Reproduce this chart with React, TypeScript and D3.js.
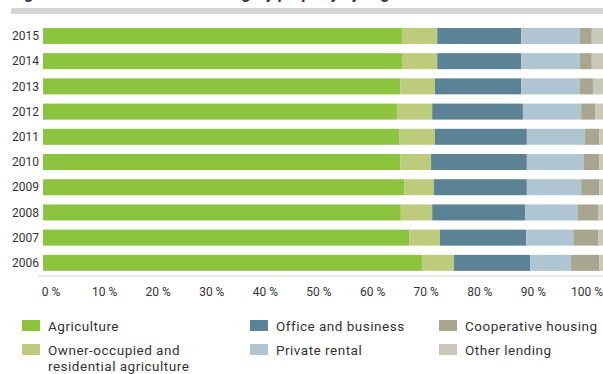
import React from "react";
import * as d3 from "d3";

const years = ["2015", "2014", "2013", "2012", "2011", "2010", "2009", "2008", "2007", "2006"];
const agriculture = [64.1, 64.1, 63.8, 63.2, 63.6, 63.8, 64.5, 63.9, 65.4, 67.7];
const ownerOccupied = [6.3, 6.3, 6.2, 6.3, 6.4, 5.5, 5.3, 5.6, 5.5, 5.7];
const officeBusiness = [15.0, 15.0, 15.4, 16.2, 16.4, 17.1, 16.6, 16.6, 15.4, 13.6];
const privateRental = [10.5, 10.5, 10.5, 10.4, 10.4, 10.2, 9.7, 9.4, 8.4, 7.3];
const cooperative = [2.1, 2.1, 2.3, 2.5, 2.5, 2.7, 3.2, 3.6, 4.5, 5.0];
const otherLending = [2.0, 2.0, 1.8, 1.4, 0.7, 0.7, 0.7, 0.9, 0.8, 0.7];

const seriesKeys = ["agri", "owner", "office", "private", "coop", "other"];
const seriesLabels = [
  ["Agriculture"],
  ["Owner-occupied and", "residential agriculture"],
  ["Office and business"],
  ["Private rental"],
  ["Cooperative housing"],
  ["Other lending"],
];
const seriesColors = ["#8cc43f", "#bccb7c", "#5b8395", "#afc5d2", "#a8a68e", "#c8c9bb"];
const tickValues = [0, 10, 20, 30, 40, 50, 60, 70, 80, 90, 100];

const W = 603;
const H = 374;
const FONT = "Roboto, 'Noto Sans', sans-serif";

export default function App() {
  const rows = years.map((y, i) => ({
    year: y,
    agri: agriculture[i],
    owner: ownerOccupied[i],
    office: officeBusiness[i],
    private: privateRental[i],
    coop: cooperative[i],
    other: otherLending[i],
  }));
  const stacked = d3.stack<any>().keys(seriesKeys)(rows);

  const x = d3.scaleLinear().domain([0, 100]).range([43, 603]);
  const xLabel = d3.scaleLinear().domain([0, 100]).range([51, 587]);
  const y = d3
    .scaleBand<string>()
    .domain(years)
    .range([23.4, 275.4])
    .paddingInner(0.365)
    .paddingOuter(0.18);

  const color = d3.scaleOrdinal<string, string>().domain(seriesKeys).range(seriesColors);

  const legendCols = [22, 250, 439];
  const legendRows = [320, 344];
  const legendItems = [
    { i: 0, col: 0, row: 0 },
    { i: 1, col: 0, row: 1 },
    { i: 2, col: 1, row: 0 },
    { i: 3, col: 1, row: 1 },
    { i: 4, col: 2, row: 0 },
    { i: 5, col: 2, row: 1 },
  ];

  return (
    <svg
      width={W}
      height={H}
      style={{ position: "absolute", left: 0, top: 0, background: "#fff" }}
      fontFamily={FONT}
    >
      <text x={11} y={-0.8} fontSize={16} fontWeight={700} fill="#333">
        Figure 8: Loans to the main category property by segment
      </text>
      <rect x={11} y={8} width={W - 11} height={6} fill="#d5d5d5" />

      {stacked.map((s) => (
        <g key={s.key} fill={color(s.key)}>
          {s.map((d: any, di: number) => (
            <rect
              key={di}
              x={x(d[0])}
              y={y(d.data.year)}
              width={Math.max(0, x(d[1]) - x(d[0]))}
              height={y.bandwidth()}
            />
          ))}
        </g>
      ))}

      {years.map((yr) => (
        <text
          key={yr}
          x={39}
          y={(y(yr) as number) + y.bandwidth() / 2}
          dy="0.35em"
          textAnchor="end"
          fontSize={12}
          fill="#333"
        >
          {yr}
        </text>
      ))}

      <rect x={38} y={275} width={W - 38} height={2} fill="#ebebeb" />

      {tickValues.map((t) => (
        <text key={t} x={xLabel(t)} y={296} textAnchor="middle" fontSize={12} fill="#333">
          {`${t} %`}
        </text>
      ))}

      {legendItems.map(({ i, col, row }) => (
        <g key={i} transform={`translate(${legendCols[col]},${legendRows[row]})`}>
          <rect x={0} y={0} width={18} height={11} fill={seriesColors[i]} />
          {seriesLabels[i].map((line, li) => (
            <text
              key={li}
              x={26}
              y={11 + li * 16}
              fontSize={13.5}
              letterSpacing={0.5}
              fill="#333"
            >
              {line}
            </text>
          ))}
        </g>
      ))}
    </svg>
  );
}
